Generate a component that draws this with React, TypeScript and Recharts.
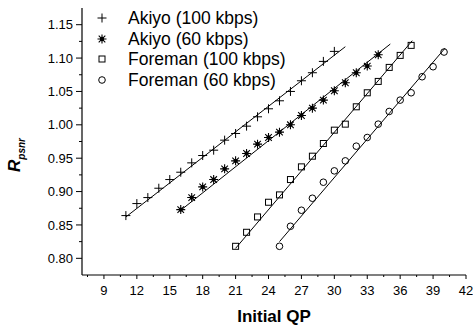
import { Scatter, ScatterChart, XAxis, YAxis } from "recharts";

const FONT = '"Liberation Sans", Arial, sans-serif';

// Initial QP / R_psnr measurements
const qpAkiyo100 = [11, 12, 13, 14, 15, 16, 17, 18, 19, 20, 21, 22, 23, 24, 25, 26, 27, 28, 29, 30];
const rAkiyo100 = [0.864, 0.882, 0.891, 0.905, 0.918, 0.929, 0.943, 0.954, 0.962, 0.977, 0.987, 0.998, 1.012, 1.024, 1.036, 1.05, 1.066, 1.078, 1.095, 1.11];

const qpAkiyo60 = [16, 17, 18, 19, 20, 21, 22, 23, 24, 25, 26, 27, 28, 29, 30, 31, 32, 33, 34];
const rAkiyo60 = [0.873, 0.891, 0.907, 0.918, 0.934, 0.946, 0.957, 0.971, 0.981, 0.989, 1.0, 1.014, 1.025, 1.037, 1.051, 1.063, 1.078, 1.088, 1.105];

const qpForeman100 = [21, 22, 23, 24, 25, 26, 27, 28, 29, 30, 31, 32, 33, 34, 35, 36, 37];
const rForeman100 = [0.818, 0.839, 0.862, 0.884, 0.895, 0.918, 0.937, 0.953, 0.972, 0.992, 1.001, 1.027, 1.048, 1.065, 1.086, 1.104, 1.119];

const qpForeman60 = [25, 26, 27, 28, 29, 30, 31, 32, 33, 34, 35, 36, 37, 38, 39, 40];
const rForeman60 = [0.818, 0.848, 0.872, 0.89, 0.914, 0.931, 0.946, 0.968, 0.981, 1.001, 1.02, 1.037, 1.048, 1.072, 1.087, 1.109];

// linear fit lines (end points)
const fitQpAkiyo100 = [11, 31];
const fitRAkiyo100 = [0.862, 1.117];
const fitQpAkiyo60 = [16, 35.1];
const fitRAkiyo60 = [0.872, 1.121];
const fitQpForeman100 = [21, 37.1];
const fitRForeman100 = [0.815, 1.126];
const fitQpForeman60 = [25, 40.1];
const fitRForeman60 = [0.825, 1.115];

const legendLabels = ["Akiyo (100 kbps)", "Akiyo (60 kbps)", "Foreman (100 kbps)", "Foreman (60 kbps)"];

const xMajorTicks = [9, 12, 15, 18, 21, 24, 27, 30, 33, 36, 39, 42];
const xMinorTicks = [7.5, 10.5, 13.5, 16.5, 19.5, 22.5, 25.5, 28.5, 31.5, 34.5, 37.5, 40.5];
const yMajorTicks = [0.8, 0.85, 0.9, 0.95, 1.0, 1.05, 1.1, 1.15];
const yMinorTicks = [0.825, 0.875, 0.925, 0.975, 1.025, 1.075, 1.125];

const zip = (xs: number[], ys: number[]) => xs.map((x, i) => ({ x, y: ys[i] }));

const Plus = ({ cx, cy }: any) => (
  <path d={`M${cx - 4.5},${cy}H${cx + 4.5}M${cx},${cy - 4.5}V${cy + 4.5}`} stroke="#000" strokeWidth={1} />
);

const Star = ({ cx, cy }: any) => (
  <g stroke="#000" strokeWidth={1.1}>
    <path
      d={`M${cx - 4.5},${cy}H${cx + 4.5}M${cx},${cy - 4.5}V${cy + 4.5}M${cx - 3.3},${cy - 3.3}L${cx + 3.3},${cy + 3.3}M${cx - 3.3},${cy + 3.3}L${cx + 3.3},${cy - 3.3}`}
    />
    <circle cx={cx} cy={cy} r={1.6} fill="#000" />
  </g>
);

const Square = ({ cx, cy }: any) => (
  <rect x={cx - 3} y={cy - 3} width={6} height={6} fill="none" stroke="#000" strokeWidth={1} />
);

const Ring = ({ cx, cy }: any) => <circle cx={cx} cy={cy} r={3.3} fill="none" stroke="#000" strokeWidth={1} />;

const NoDot = () => <g />;

const markers = [Plus, Star, Square, Ring];

const YTick = ({ x, y, payload }: any) => {
  const major = yMajorTicks.includes(payload.value);
  return (
    <g>
      <line x1={x - (major ? 6 : 3)} x2={x} y1={y} y2={y} stroke="#000" />
      {major && (
        <text x={x - 9} y={y} dy="0.36em" textAnchor="end" fontFamily={FONT} fontSize={13} fill="#000">
          {payload.value.toFixed(2)}
        </text>
      )}
    </g>
  );
};

const XTick = ({ x, y, payload }: any) => {
  const major = xMajorTicks.includes(payload.value);
  return (
    <g>
      <line x1={x} x2={x} y1={y} y2={y + (major ? 4 : 2)} stroke="#000" />
      {major && (
        <text x={x} y={y + 20} textAnchor="middle" fontFamily={FONT} fontSize={13} fill="#000">
          {payload.value}
        </text>
      )}
    </g>
  );
};

const XTitle = ({ viewBox }: any) => (
  <text x={viewBox.x + viewBox.width / 2} y={viewBox.y + 47} textAnchor="middle" fontFamily={FONT} fontSize={17} fontWeight="bold" fill="#000">
    Initial QP
  </text>
);

const YTitle = () => (
  <text transform="translate(20,172) rotate(-90)" fontFamily={FONT} fontWeight="bold" fontStyle="italic" fill="#000">
    <tspan fontSize={17}>R</tspan>
    <tspan fontSize={10} dy={5}>psnr</tspan>
  </text>
);

export default function App() {
  return (
    <div style={{ position: "absolute", left: 0, top: 0, width: 473, height: 328, background: "#fff" }}>
      <ScatterChart width={473} height={328} margin={{ top: 8, right: 7, bottom: 0, left: 0 }}>
        <XAxis
          type="number"
          dataKey="x"
          domain={[7, 42]}
          ticks={[...xMajorTicks, ...xMinorTicks].sort((a, b) => a - b)}
          interval={0}
          tickSize={0}
          tickMargin={0}
          tick={<XTick />}
          height={53}
          axisLine={{ stroke: "#000", strokeWidth: 1.2 }}
          label={<XTitle />}
        />
        <YAxis
          type="number"
          dataKey="y"
          domain={[0.775, 1.175]}
          ticks={[...yMajorTicks, ...yMinorTicks].sort((a, b) => a - b)}
          interval={0}
          tickSize={0}
          tickMargin={0}
          tick={<YTick />}
          width={82}
          axisLine={{ stroke: "#000", strokeWidth: 1.2 }}
          label={<YTitle />}
        />
        <Scatter data={zip(fitQpAkiyo100, fitRAkiyo100)} line={{ stroke: "#000", strokeWidth: 1 }} shape={<NoDot />} isAnimationActive={false} />
        <Scatter data={zip(fitQpAkiyo60, fitRAkiyo60)} line={{ stroke: "#000", strokeWidth: 1 }} shape={<NoDot />} isAnimationActive={false} />
        <Scatter data={zip(fitQpForeman100, fitRForeman100)} line={{ stroke: "#000", strokeWidth: 1 }} shape={<NoDot />} isAnimationActive={false} />
        <Scatter data={zip(fitQpForeman60, fitRForeman60)} line={{ stroke: "#000", strokeWidth: 1 }} shape={<NoDot />} isAnimationActive={false} />
        <Scatter name={legendLabels[0]} data={zip(qpAkiyo100, rAkiyo100)} shape={<Plus />} isAnimationActive={false} />
        <Scatter name={legendLabels[1]} data={zip(qpAkiyo60, rAkiyo60)} shape={<Star />} isAnimationActive={false} />
        <Scatter name={legendLabels[2]} data={zip(qpForeman100, rForeman100)} shape={<Square />} isAnimationActive={false} />
        <Scatter name={legendLabels[3]} data={zip(qpForeman60, rForeman60)} shape={<Ring />} isAnimationActive={false} />
      </ScatterChart>
      <div style={{ position: "absolute", left: 94, top: 8, fontFamily: FONT, fontSize: 17.5, lineHeight: "20.5px", color: "#000" }}>
        {legendLabels.map((label, i) => {
          const Mark = markers[i];
          return (
            <div key={label} style={{ display: "flex", alignItems: "center", height: 20.5, whiteSpace: "nowrap" }}>
              <svg width={16} height={16} style={{ marginRight: 18 }}>
                <Mark cx={8} cy={8} />
              </svg>
              {label}
            </div>
          );
        })}
      </div>
    </div>
  );
}
